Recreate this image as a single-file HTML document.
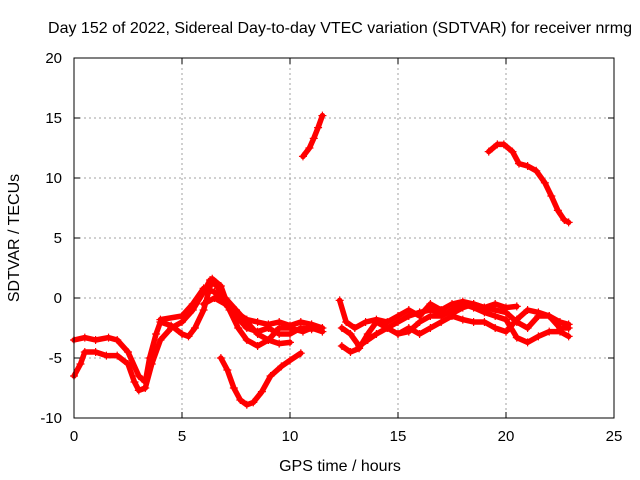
<!DOCTYPE html>
<html><head><meta charset="utf-8"><style>
html,body{margin:0;padding:0;background:#fff;}
svg{display:block;font-family:"Liberation Sans",sans-serif;}
</style></head><body>
<svg id="chart" width="640" height="480" viewBox="0 0 640 480">
<rect width="640" height="480" fill="#fff"/>
<text x="340" y="33" font-size="16" text-anchor="middle">Day 152 of 2022, Sidereal Day-to-day VTEC variation (SDTVAR) for receiver nrmg</text>
<text x="340" y="471" font-size="16" text-anchor="middle">GPS time / hours</text>
<text x="19" y="238" font-size="16" text-anchor="middle" transform="rotate(-90 19 238)">SDTVAR / TECUs</text>
<g id="grid"></g><g id="marks"></g><g id="axes"></g>
</svg>
<script>
const xTicks=[0,5,10,15,20,25];
const yTicks=[-10,-5,0,5,10,15,20];
const s1=[[10.6,11.8],[10.9,12.5],[11.1,13.3],[11.3,14.2],[11.5,15.2]];
const s2=[[19.2,12.2],[19.6,12.8],[19.9,12.8],[20.3,12.2],[20.6,11.2],[21,11],[21.4,10.6],[21.8,9.6],[22.1,8.5],[22.4,7.3],[22.7,6.5],[22.9,6.3]];
const s3=[[6.8,-5],[7.1,-6],[7.4,-7.5],[7.7,-8.5],[8,-8.9],[8.3,-8.7],[8.7,-7.8],[9.1,-6.5],[9.6,-5.7],[10,-5.2],[10.5,-4.6]];
const s4=[[0,-6.5],[0.3,-5.5],[0.5,-4.5],[1,-4.5],[1.5,-4.8],[2,-4.8],[2.5,-5.5],[2.8,-7],[3,-7.7],[3.3,-7.5],[3.6,-5.5],[4,-3.5],[4.5,-2.5],[5,-2],[5.5,-1],[6,0.5],[6.3,1.5],[6.6,1],[7,0],[7.5,-1],[8,-2],[8.5,-3],[9,-3.5],[9.5,-3.8],[10,-3.7]];
const s5=[[0,-3.5],[0.5,-3.3],[1,-3.5],[1.6,-3.3],[2,-3.5],[2.5,-4.5],[3,-6.5],[3.3,-7],[3.5,-5],[3.8,-3],[4,-2],[4.5,-2.3],[5,-3],[5.3,-3.2],[5.6,-2.5],[6,-1],[6.4,1.6],[6.8,1],[7.2,-1],[7.6,-2.5],[8,-3.5],[8.5,-4],[9,-3.5],[9.5,-2.5],[10,-2.5],[10.6,-2.8],[11,-2.5],[11.5,-2.8]];
const s6=[[4,-1.8],[5,-1.5],[5.5,-0.5],[6,0.8],[6.5,0.5],[7,-0.5],[7.5,-1.2],[8,-1.8],[8.5,-2],[9,-2.2],[9.5,-2],[10,-2.3],[10.5,-2],[11,-2.2],[11.5,-2.5]];
const s7=[[6,-0.5],[6.5,0],[7,-0.5],[7.5,-1.5],[8,-2.5],[8.5,-2.8],[9,-2.5],[9.5,-3],[10,-3],[10.5,-2.5],[11,-2.6],[11.3,-2.5]];
const s8=[[12.4,-2.5],[12.8,-3],[13.2,-4],[13.6,-3.5],[14,-3],[14.5,-2.5],[15,-2],[15.5,-1.5],[16,-1.2],[16.5,-1],[17,-1.2],[17.5,-1.3],[18,-0.8],[18.5,-0.5],[19,-0.8],[19.5,-0.5],[20,-0.8],[20.5,-0.7]];
const s9=[[12.4,-4],[12.8,-4.5],[13.2,-4.2],[13.6,-3],[14,-2],[14.5,-2.5],[15,-3],[15.5,-2.8],[16,-2],[16.5,-1.5],[17,-1.5],[17.5,-1],[18,-0.5],[18.5,-0.8],[19,-1.2],[19.5,-1.5],[20,-1.8],[20.5,-3.3],[21,-3.7],[21.5,-3.2],[22,-2.8],[22.5,-2.8],[22.9,-3.2]];
const s10=[[12.3,-0.2],[12.6,-2],[13,-2.5],[13.5,-2],[14,-1.8],[14.5,-2],[15,-1.5],[15.5,-1],[16,-1.5],[16.5,-0.5],[17,-1],[17.5,-0.5],[18,-0.3],[18.5,-0.5],[19,-0.8],[19.5,-1],[20,-1.2],[20.5,-2],[21,-2.5],[21.5,-1.5],[22,-1.5],[22.5,-2],[22.9,-2.2]];
const s11=[[15,-3],[15.5,-2.5],[16,-3],[16.5,-2.5],[17,-2],[17.5,-1.5],[18,-1.8],[18.5,-2],[19,-2],[19.5,-2.5],[20,-2.8],[20.5,-1.8],[21,-1],[21.5,-1.2],[22,-1.5],[22.5,-2.5],[22.9,-2.5]];
const seriesList=[s1,s2,s3,s4,s5,s6,s7,s8,s9,s10,s11];
const L=74,R=614,T=58,B=418,X0=0,X1=25,Y0=-10,Y1=20;
function xs(v){return L+(v-X0)/(X1-X0)*(R-L);}
function ys(v){return B-(v-Y0)/(Y1-Y0)*(B-T);}
const NS='http://www.w3.org/2000/svg';
function mk(t,a,p){const e=document.createElementNS(NS,t);for(const k in a)e.setAttribute(k,a[k]);p.appendChild(e);return e;}
const grid=document.getElementById('grid'),axes=document.getElementById('axes'),marks=document.getElementById('marks');
xTicks.forEach(v=>{const x=xs(v);
 if(v>X0&&v<X1){const g=mk('line',{x1:x,y1:T,x2:x,y2:B,stroke:'#a0a0a0','stroke-dasharray':'2,3'},grid);
 
 }
 mk('line',{x1:x,y1:B,x2:x,y2:B-6,stroke:'#000'},axes);mk('line',{x1:x,y1:T,x2:x,y2:T+6,stroke:'#000'},axes);
 const t=mk('text',{x:x,y:B+23,'font-size':15,'text-anchor':'middle'},axes);t.textContent=v;
 
 });
yTicks.forEach(v=>{const y=ys(v);
 if(v>Y0&&v<Y1){const g=mk('line',{x1:L,y1:y,x2:R,y2:y,stroke:'#a0a0a0','stroke-dasharray':'2,3'},grid);
 
 }
 mk('line',{x1:L,y1:y,x2:L+6,y2:y,stroke:'#000'},axes);mk('line',{x1:R,y1:y,x2:R-6,y2:y,stroke:'#000'},axes);
 const t=mk('text',{x:L-12,y:y+5,'font-size':15,'text-anchor':'end'},axes);t.textContent=v;
 
 });
const fr=mk('rect',{x:L,y:T,width:R-L,height:B-T,fill:'none',stroke:'#000'},axes);


seriesList.forEach((s,i)=>{
 const pl=mk('polyline',{points:s.map(p=>xs(p[0])+','+ys(p[1])).join(' '),fill:'none',stroke:'#ff0000','stroke-width':5.5,'stroke-linejoin':'round','stroke-linecap':'round'},marks);
 
 
 s.forEach(p=>{const x=xs(p[0]),y=ys(p[1]);
  const m=mk('path',{d:'M'+(x-4)+' '+y+'H'+(x+4)+'M'+x+' '+(y-4)+'V'+(y+4),stroke:'#ff0000','stroke-width':1.2},marks);
  
  });
});
</script>
</body></html>
